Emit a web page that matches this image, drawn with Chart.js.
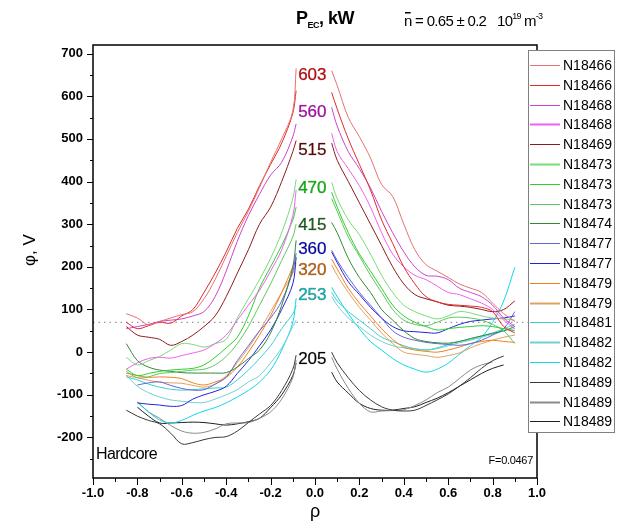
<!DOCTYPE html>
<html>
<head>
<meta charset="utf-8">
<script src="https://cdn.jsdelivr.net/npm/chart.js@4.4.1/dist/chart.umd.min.js"></script>
<style>
  html, body { margin: 0; padding: 0; background: #fff; }
  canvas { display: block; }
</style>
</head>
<body>
<canvas id="chart" width="620" height="525"></canvas>
<script>
// rho grid of the two branches (the centre |rho| < 0.08 is not measured)
const rhoLeft  = [-0.85,-0.8,-0.75,-0.7,-0.65,-0.6,-0.55,-0.5,-0.45,-0.4,-0.35,-0.3,-0.25,-0.2,-0.15,-0.1,-0.085];
const rhoRight = [0.075,0.1,0.15,0.2,0.25,0.3,0.35,0.4,0.45,0.5,0.55,0.6,0.65,0.7,0.75,0.8,0.85,0.9,0.95];

// phi, V  (left branch / right branch)
const n18466aL = [90,80,64,72,80,88,95,125,170,225,280,330,386,445,500,565,665];
const n18466aR = [660,625,550,505,455,393,365,300,240,205,190,175,160,150,140,115,90,72,null];
const n18466bL = [70,55,62,70,68,85,100,140,185,235,290,335,390,440,490,560,613];
const n18466bR = [609,570,500,440,380,310,255,200,160,130,118,112,110,108,105,95,60,45,null];
const n18468aL = [55,60,65,72,75,78,85,95,130,190,260,320,370,415,445,505,535];
const n18468aR = [574,530,470,430,385,330,280,235,200,180,178,170,150,140,130,110,80,60,null];
const n18468bL = [-40,-25,-15,-12,-14,-8,-2,5,20,40,75,110,145,190,240,320,380];
const n18468bR = [513,470,430,390,340,280,230,200,180,170,155,140,135,125,115,100,75,55,null];
const n18469L  = [60,40,35,30,16,25,40,60,85,130,185,240,300,340,400,470,496];
const n18469R  = [490,450,400,350,300,250,200,160,135,125,118,110,108,105,100,95,100,120,null];
const n18473aL = [-12,-30,-20,-10,5,20,18,12,20,30,80,125,170,220,280,360,405];
const n18473aR = [398,360,310,275,230,180,140,110,95,85,78,85,95,92,85,80,78,75,null];
const n18473bL = [-40,-55,-50,-45,-42,-40,-38,-30,-12,10,35,85,150,200,250,310,340];
const n18473bR = [375,340,280,230,190,150,110,85,70,60,52,55,58,60,62,60,55,50,null];
const n18473cL = [-45,-60,-58,-50,-48,-45,-42,-40,-30,-10,20,60,110,160,215,270,300];
const n18473cR = [360,330,270,225,180,140,100,75,65,62,70,80,82,80,75,65,50,20,null];
const n18474L  = [20,-20,-35,-42,-45,-48,-49,-49,-49,-48,-35,-15,5,45,110,200,262];
const n18474R  = [304,280,220,175,140,100,75,50,32,25,22,21,25,32,38,44,50,60,null];
const n18477aL = [null,-77,-72,-70,-78,-85,-89,-88,-75,-59,-20,15,50,80,120,190,232];
const n18477aR = [239,215,175,140,110,80,50,35,28,23,20,18,16,20,28,40,55,95,null];
const n18477bL = [null,-119,-122,-124,-127,-125,-110,-100,-92,-80,-50,-20,15,52,100,160,222];
const n18477bR = [235,210,165,135,105,80,60,50,48,46,45,55,65,72,75,78,80,85,null];
const n18479aL = [-49,-55,-59,-58,-59,-62,-72,-77,-70,-59,-35,0,40,85,140,200,222];
const n18479aR = [218,195,150,115,85,55,30,12,5,2,0,5,12,20,25,28,25,23,null];
const n18479bL = [-55,-60,-66,-70,-72,-73,-78,-82,-75,-55,-25,10,50,95,140,185,208];
const n18479bR = [205,180,140,105,75,45,20,0,-5,-8,-12,-8,-2,10,20,28,35,40,null];
const n18481L  = [-58,-65,-75,-82,-87,-89,-88,-86,-84,-82,-65,-42,-15,15,55,90,110];
const n18481R  = [140,120,95,75,55,35,25,15,8,5,10,18,25,30,38,45,55,65,null];
const n18482aL = [-54,-80,-95,-105,-112,-115,-118,-118,-110,-100,-88,-70,-55,-25,10,60,75];
const n18482aR = [130,110,80,60,40,25,15,10,8,5,8,15,22,28,35,42,50,55,null];
const n18482bL = [null,-117,-140,-159,-166,-160,-148,-138,-130,-119,-105,-90,-70,-42,5,70,126];
const n18482bR = [152,130,90,55,25,5,-15,-30,-40,-47,-40,-26,-5,15,35,70,120,199,null];
const n18489aL = [-136,-150,-160,-168,-190,-215,-212,-205,-200,-198,-185,-165,-145,-125,-90,-40,-7];
const n18489aR = [0,-25,-60,-90,-112,-128,-136,-138,-136,-125,-112,-98,-80,-60,-38,-20,-9,null,null];
const n18489bL = [null,-117,-140,-155,-172,-185,-190,-188,-180,-168,-166,-165,-155,-140,-110,-60,-19];
const n18489bR = [-12,-40,-85,-120,-140,-138,-137,-135,-125,-112,-95,-82,-62,-42,-30,-23,null,null,null];
const n18489cL = [null,-129,-150,-166,-166,-165,-164,-165,-168,-171,-168,-163,-155,-130,-100,-55,-26];
const n18489cR = [-47,-70,-96,-120,-132,-136,-136,-132,-128,-118,-108,-95,-80,-65,-50,-38,-30,null,null];

const shotNames = ['N18466','N18466','N18468','N18468','N18469','N18473','N18473','N18473','N18474',
                   'N18477','N18477','N18479','N18479','N18481','N18482','N18482','N18489','N18489','N18489'];
const shotLeft  = [n18466aL,n18466bL,n18468aL,n18468bL,n18469L,n18473aL,n18473bL,n18473cL,n18474L,
                   n18477aL,n18477bL,n18479aL,n18479bL,n18481L,n18482aL,n18482bL,n18489aL,n18489bL,n18489cL];
const shotRight = [n18466aR,n18466bR,n18468aR,n18468bR,n18469R,n18473aR,n18473bR,n18473cR,n18474R,
                   n18477aR,n18477bR,n18479aR,n18479bR,n18481R,n18482aR,n18482bR,n18489aR,n18489bR,n18489cR];
const shotColors = ['#e87070','#e02a2a','#cc44cc','#f060f0','#8c1c1c','#78dc78','#30cc30','#5cc85c','#348834',
                    '#6464dc','#2222dc','#f08020','#e0a060','#38d0d0','#70d0d0','#10d8e8','#383838','#8a8a8a','#202020'];
const legendWidths = [1,1,1,2,1,2,1,1,1,1,1,1,2,1,2,1,1,2,1];

// EC power labels, kW, and the phi level they sit at
const powerLabels = ['603','560','515','470','415','360','320','253','205'];
const powerLabelPhi = [650,563,472,385,298,241,192,134,-16];
const powerColors = ['#e00000','#cc00cc','#6a0000','#00d000','#186818','#0000d0','#d86800','#00c8c8','#000000'];

const hardcorePhi = 70;
const xTicks = [-1,-0.8,-0.6,-0.4,-0.2,0,0.2,0.4,0.6,0.8,1];
const yTicks = [-200,-100,0,100,200,300,400,500,600,700];

const FONT = '"Liberation Sans", Arial, sans-serif';

function branch(rs, vs) {
  return rs.map((r, i) => ({ x: r, y: vs[i] }));
}

const datasets = shotNames.map((name, i) => ({
  label: name,
  data: [...branch(rhoLeft, shotLeft[i]), { x: 0, y: null }, ...branch(rhoRight, shotRight[i])],
  borderColor: shotColors[i],
  borderWidth: 1,
  pointRadius: 0,
  tension: 0.35,
  spanGaps: false
}));

datasets.push({
  label: 'level',
  data: [{ x: -1, y: hardcorePhi }, { x: 1, y: hardcorePhi }],
  borderColor: '#999',
  borderWidth: 1.2,
  borderDash: [1.5, 4],
  pointRadius: 0
});

const decor = {
  id: 'decor',
  afterDatasetsDraw(chart) {
    const { ctx, chartArea: a, scales: { x, y } } = chart;
    ctx.save();
    ctx.font = '17px ' + FONT;
    ctx.textAlign = 'center';
    ctx.textBaseline = 'middle';
    ctx.lineWidth = 0.6;
    powerLabels.forEach((t, i) => {
      const px = x.getPixelForValue(-0.012);
      const py = y.getPixelForValue(powerLabelPhi[i]);
      ctx.fillStyle = powerColors[i];
      ctx.fillText(t, px, py);
      ctx.strokeStyle = 'rgba(0,0,0,0.35)';
      ctx.strokeText(t, px, py);
    });

    ctx.fillStyle = '#000';
    ctx.textAlign = 'left';
    ctx.font = '16px ' + FONT;
    ctx.letterSpacing = '-0.6px';
    ctx.fillText('Hardcore', a.left + 3, 455);
    ctx.font = '11px ' + FONT;
    ctx.letterSpacing = '-0.3px';
    ctx.textAlign = 'right';
    ctx.fillText('F=0.0467', a.right - 4, 461);
    ctx.letterSpacing = '0px';
    ctx.restore();
  },
  afterDraw(chart) {
    const { ctx, chartArea: a, scales: { x, y } } = chart;
    ctx.save();
    // frame
    ctx.strokeStyle = '#000';
    ctx.lineWidth = 1.5;
    ctx.strokeRect(a.left, a.top, a.right - a.left, a.bottom - a.top);
    // tick marks
    ctx.lineWidth = 1;
    for (let v = -250; v <= 700; v += 50) {
      const py = Math.round(y.getPixelForValue(v)) + 0.5;
      const len = v % 100 === 0 ? 6 : 3;
      ctx.beginPath(); ctx.moveTo(a.left - len, py); ctx.lineTo(a.left, py); ctx.stroke();
    }
    for (let i = -10; i <= 10; i++) {
      const px = Math.round(x.getPixelForValue(i / 10)) + 0.5;
      const len = i % 2 === 0 ? 7 : 4;
      ctx.beginPath(); ctx.moveTo(px, a.bottom); ctx.lineTo(px, a.bottom + len); ctx.stroke();
    }

    // axis titles
    ctx.fillStyle = '#000';
    ctx.textAlign = 'center';
    ctx.textBaseline = 'middle';
    ctx.font = '18px ' + FONT;
    ctx.fillText('\u03C1', x.getPixelForValue(0), 512);
    ctx.save();
    ctx.translate(30, 250);
    ctx.rotate(-Math.PI / 2);
    ctx.font = '17px ' + FONT;
    ctx.fillText('\u03C6, V', 0, 0);
    ctx.restore();

    // top titles
    ctx.textAlign = 'left';
    ctx.textBaseline = 'alphabetic';
    ctx.font = 'bold 18px ' + FONT;
    ctx.letterSpacing = '-0.5px';
    let cx = 296;
    ctx.fillText('P', cx, 24); cx += ctx.measureText('P').width;
    ctx.font = 'bold 9px ' + FONT;
    ctx.fillText('EC', cx, 28); cx += ctx.measureText('EC').width;
    ctx.font = 'bold 18px ' + FONT;
    ctx.fillText(', kW', cx, 24);

    ctx.font = '15px ' + FONT;
    ctx.letterSpacing = '-0.7px';
    cx = 404;
    ctx.fillText('n', cx, 26);
    const nw = ctx.measureText('n').width;
    ctx.fillRect(cx + 1, 12, nw - 2, 1.5);
    cx += nw;
    const t1 = ' = 0.65 \u00B1 0.2';
    ctx.fillText(t1, cx, 26);
    cx = 497;
    ctx.fillText('10', cx, 26); cx += ctx.measureText('10').width;
    ctx.font = '9px ' + FONT;
    ctx.fillText('19', cx, 19); cx += ctx.measureText('19').width + 3;
    ctx.font = '15px ' + FONT;
    ctx.fillText('m', cx, 26); cx += ctx.measureText('m').width;
    ctx.font = '9px ' + FONT;
    ctx.fillText('-3', cx, 19);
    ctx.letterSpacing = '0px';

    // legend box
    const lx = 528, ly = 50, lw = 86, lh = 382;
    ctx.fillStyle = '#fff';
    ctx.fillRect(lx, ly, lw, lh);
    ctx.strokeStyle = '#808080';
    ctx.lineWidth = 1;
    ctx.strokeRect(lx + 0.5, ly + 0.5, lw, lh);
    ctx.font = '14px ' + FONT;
    ctx.textBaseline = 'middle';
    shotNames.forEach((name, i) => {
      const iy = Math.round(65 + i * 19.8) + 0.5;
      ctx.strokeStyle = shotColors[i];
      ctx.lineWidth = legendWidths[i];
      ctx.beginPath(); ctx.moveTo(530, iy); ctx.lineTo(560, iy); ctx.stroke();
      ctx.fillStyle = '#000';
      ctx.fillText(name, 563, iy + 1);
    });
    ctx.restore();
  }
};

new Chart(document.getElementById('chart'), {
  type: 'line',
  data: { datasets },
  plugins: [decor],
  options: {
    responsive: false,
    animation: false,
    devicePixelRatio: 1,
    layout: { padding: { left: 0, right: 83, top: 45, bottom: 0 } },
    plugins: { legend: { display: false }, tooltip: { enabled: false } },
    scales: {
      x: {
        type: 'linear',
        min: -1, max: 1,
        afterBuildTicks: s => { s.ticks = xTicks.map(v => ({ value: v })); },
        afterFit: s => { s.height = 47; },
        grid: { display: false, drawTicks: false },
        border: { display: false },
        ticks: {
          padding: 8,
          color: '#000',
          font: { family: FONT, size: 13, weight: 'bold' },
          maxRotation: 0,
          callback: v => Number(v).toFixed(1)
        }
      },
      y: {
        type: 'linear',
        min: -295, max: 720,
        afterBuildTicks: s => { s.ticks = yTicks.map(v => ({ value: v })); },
        afterFit: s => { s.width = 93; },
        grid: { display: false, drawTicks: false },
        border: { display: false },
        ticks: {
          padding: 10,
          color: '#000',
          font: { family: FONT, size: 13, weight: 'bold' },
          callback: v => String(v)
        }
      }
    }
  }
});
</script>
</body>
</html>
